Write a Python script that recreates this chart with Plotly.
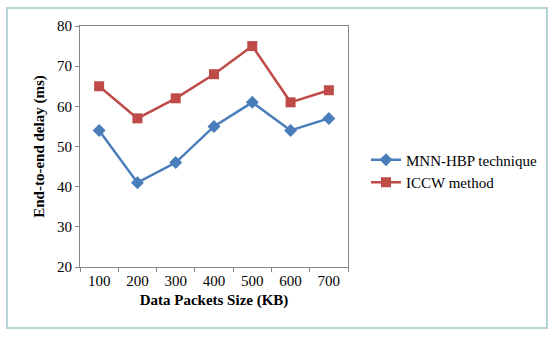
import plotly.graph_objects as go

categories = ["100", "200", "300", "400", "500", "600", "700"]
mnn_hbp = [54, 41, 46, 55, 61, 54, 57]
iccw = [65, 57, 62, 68, 75, 61, 64]

L, R, T, B = 80, 348, 26, 267
W, H = 552, 338
pw, ph = R - L, B - T

def px(x):
    return (x - L) / pw

def py(y):
    return (B - y) / ph

fig = go.Figure()
fig.add_trace(go.Scatter(
    x=categories, y=mnn_hbp, name="MNN-HBP technique", mode="lines+markers",
    line=dict(color="#4A7EBB", width=2.5),
    marker=dict(symbol="diamond", size=10, color="#4A7EBB")))
fig.add_trace(go.Scatter(
    x=categories, y=iccw, name="ICCW method", mode="lines+markers",
    line=dict(color="#BE4B48", width=2.5),
    marker=dict(symbol="square", size=10, color="#BE4B48")))

font = "Liberation Serif, Times New Roman, serif"
fig.update_layout(
    width=W, height=H,
    margin=dict(l=L, r=W - R, t=T, b=H - B, autoexpand=False),
    paper_bgcolor="white", plot_bgcolor="white",
    font=dict(family=font, size=14, color="#000000"),
    showlegend=True,
    legend=dict(x=px(366), y=py(171), xanchor="left", yanchor="middle",
                font=dict(family=font, size=15), bgcolor="rgba(0,0,0,0)",
                tracegroupgap=4, itemwidth=30),
    xaxis=dict(type="category", range=[-0.5, 6.5], tickson="boundaries",
               ticks="outside", ticklen=4, tickcolor="#868686",
               showline=True, linecolor="#868686", linewidth=1, mirror=True,
               showgrid=False, tickfont=dict(size=15), automargin=False,
               title=dict(text="<b>Data Packets Size (KB)</b>", font=dict(size=15), standoff=6)),
    yaxis=dict(range=[20, 80], tickvals=[20, 30, 40, 50, 60, 70, 80],
               ticks="outside", ticklen=4, tickcolor="#868686",
               showline=True, linecolor="#868686", linewidth=1, mirror=True,
               showgrid=False, zeroline=False, tickfont=dict(size=15), automargin=False,
               title=dict(text="<b>End-to-end delay (ms)</b>", font=dict(size=15), standoff=8)),
    shapes=[dict(type="rect", xref="paper", yref="paper",
                 x0=px(7), x1=px(547), y0=py(328), y1=py(8),
                 line=dict(color="#B7D3D8", width=2), layer="below")],
)

fig.write_html("out.html", config={"displayModeBar": False},
               post_script="document.body.style.margin='0';")
